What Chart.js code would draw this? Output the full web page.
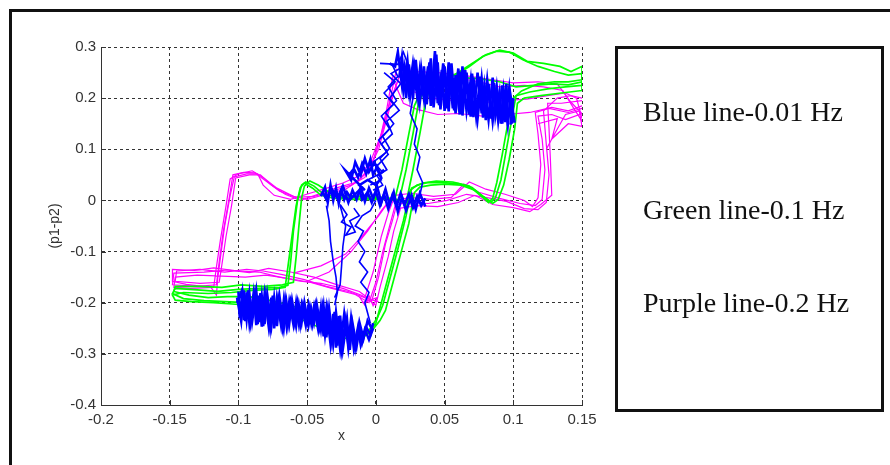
<!DOCTYPE html>
<html>
<head>
<meta charset="utf-8">
<script src="https://cdn.jsdelivr.net/npm/chart.js@4.4.0/dist/chart.umd.min.js"></script>
<style>
  html, body { margin: 0; padding: 0; background: #fff; }
  #wrap { position: relative; width: 890px; height: 465px; overflow: hidden; }
  #frame { position: absolute; left: 9px; top: 9px; width: 900px; height: 500px; border: 3px solid #111; }
  #plot { position: absolute; left: 0; top: 0; }
  #legendBox { position: absolute; left: 615px; top: 46px; width: 263px; height: 360px; border: 3px solid #111; }
  .leg { position: absolute; left: 643px; height: 32px; line-height: 32px; white-space: nowrap;
         font-family: "Liberation Serif", "Times New Roman", serif; font-size: 28px; color: #111; }
</style>
</head>
<body>
<div id="wrap">
  <div id="frame"></div>
  <canvas id="plot" width="890" height="465"></canvas>
  <div id="legendBox"></div>
  <div class="leg" style="top:96px">Blue line-0.01 Hz</div>
  <div class="leg" style="top:194px">Green line-0.1 Hz</div>
  <div class="leg" style="top:287px">Purple line-0.2 Hz</div>
</div>
<script>
/* axis ticks */
const xTicks = [-0.2, -0.15, -0.1, -0.05, 0, 0.05, 0.1, 0.15];
const xTickLabels = ['-0.2', '-0.15', '-0.1', '-0.05', '0', '0.05', '0.1', '0.15'];
const yTicks = [0.3, 0.2, 0.1, 0, -0.1, -0.2, -0.3, -0.4];
const yTickLabels = ['0.3', '0.2', '0.1', '0', '-0.1', '-0.2', '-0.3', '-0.4'];

/* ── Purple (0.2 Hz) cycles, [x, p1-p2] ── */
const purpleCycle1 = [
  [0.150, 0.170], [0.142, 0.192], [0.132, 0.228], [0.118, 0.232], [0.100, 0.230], [0.085, 0.236], [0.065, 0.244], [0.045, 0.250], [0.030, 0.252], [0.015, 0.256],
  [0.011, 0.205], [0.006, 0.145], [-0.001, 0.085], [-0.008, 0.045], [-0.018, 0.030],
  [-0.032, 0.018], [-0.045, 0.008], [-0.058, 0.006], [-0.070, 0.018], [-0.080, 0.038], [-0.088, 0.054], [-0.096, 0.055], [-0.104, 0.050],
  [-0.107, 0.000], [-0.111, -0.060], [-0.114, -0.120], [-0.116, -0.165],
  [-0.130, -0.168], [-0.148, -0.165], [-0.147, -0.142], [-0.125, -0.140], [-0.108, -0.136], [-0.092, -0.141], [-0.078, -0.133], [-0.062, -0.140], [-0.045, -0.150], [-0.028, -0.165], [-0.012, -0.178], [-0.003, -0.196],
  [0.002, -0.150], [0.007, -0.085], [0.012, -0.040], [0.016, 0.000], [0.024, 0.006],
  [0.040, 0.002], [0.055, 0.006], [0.064, 0.032], [0.075, 0.016], [0.090, 0.004], [0.105, -0.006], [0.116, -0.010], [0.121, 0.002],
  [0.123, 0.060], [0.121, 0.120], [0.118, 0.165], [0.128, 0.168], [0.138, 0.158], [0.150, 0.170]
];
const purpleCycle2 = [
  [0.150, 0.185], [0.140, 0.175], [0.128, 0.182], [0.112, 0.172], [0.095, 0.168], [0.078, 0.165], [0.060, 0.170], [0.045, 0.168], [0.030, 0.178], [0.020, 0.190], [0.012, 0.240],
  [0.008, 0.180], [0.003, 0.120], [-0.003, 0.070], [-0.012, 0.040], [-0.022, 0.022],
  [-0.036, 0.012], [-0.050, 0.002], [-0.060, 0.008], [-0.072, 0.024], [-0.082, 0.045], [-0.090, 0.058], [-0.100, 0.052], [-0.106, 0.042],
  [-0.109, -0.010], [-0.113, -0.075], [-0.116, -0.130], [-0.118, -0.170],
  [-0.135, -0.172], [-0.147, -0.170], [-0.146, -0.150], [-0.130, -0.146], [-0.112, -0.148], [-0.095, -0.150], [-0.080, -0.146], [-0.065, -0.152], [-0.048, -0.160], [-0.032, -0.172], [-0.015, -0.184], [-0.005, -0.200],
  [0.000, -0.160], [0.005, -0.100], [0.010, -0.050], [0.014, -0.010], [0.022, -0.004],
  [0.038, -0.006], [0.052, 0.000], [0.066, 0.012], [0.080, 0.006], [0.095, -0.002], [0.108, -0.016], [0.118, -0.018], [0.124, -0.004],
  [0.126, 0.050], [0.124, 0.110], [0.122, 0.175], [0.132, 0.200], [0.142, 0.205], [0.150, 0.200]
];
const purpleCycle3 = [
  [0.150, 0.155], [0.144, 0.180], [0.136, 0.215], [0.122, 0.222], [0.108, 0.225], [0.090, 0.222], [0.070, 0.235], [0.050, 0.240], [0.032, 0.245], [0.018, 0.250],
  [0.013, 0.210], [0.008, 0.160], [0.002, 0.100], [-0.006, 0.055], [-0.015, 0.035],
  [-0.028, 0.025], [-0.042, 0.012], [-0.055, 0.000], [-0.066, 0.012], [-0.076, 0.030], [-0.084, 0.050], [-0.092, 0.050], [-0.102, 0.044],
  [-0.105, -0.010], [-0.109, -0.070], [-0.112, -0.125], [-0.114, -0.160],
  [-0.128, -0.162], [-0.146, -0.158], [-0.145, -0.138], [-0.128, -0.135], [-0.110, -0.140], [-0.094, -0.135], [-0.082, -0.138], [-0.068, -0.145], [-0.052, -0.155], [-0.036, -0.168], [-0.020, -0.178], [-0.008, -0.190],
  [-0.002, -0.140], [0.004, -0.070], [0.009, -0.025], [0.014, 0.010], [0.026, 0.014],
  [0.042, 0.008], [0.058, 0.012], [0.068, 0.036], [0.080, 0.022], [0.094, 0.012], [0.108, 0.000], [0.114, -0.012], [0.118, 0.005],
  [0.120, 0.070], [0.118, 0.130], [0.116, 0.172], [0.126, 0.180], [0.140, 0.172], [0.150, 0.180]
];
const purpleCycle4 = [
  [0.150, 0.160], [0.146, 0.200], [0.138, 0.210], [0.125, 0.205], [0.110, 0.198], [0.092, 0.195], [0.075, 0.190], [0.058, 0.195], [0.040, 0.200], [0.025, 0.215], [0.016, 0.235],
  [0.010, 0.190], [0.004, 0.130], [-0.004, 0.075], [-0.012, 0.048], [-0.024, 0.034],
  [-0.038, 0.022], [-0.048, 0.014], [-0.062, 0.002], [-0.074, 0.010], [-0.082, 0.030], [-0.086, 0.052], [-0.094, 0.052], [-0.103, 0.046],
  [-0.106, 0.010], [-0.110, -0.050], [-0.113, -0.110], [-0.115, -0.150], [-0.116, -0.185],
  [-0.120, -0.170], [-0.138, -0.164], [-0.148, -0.158], [-0.148, -0.135], [-0.132, -0.137], [-0.118, -0.132], [-0.100, -0.138], [-0.085, -0.140], [-0.070, -0.150], [-0.055, -0.158], [-0.040, -0.162], [-0.024, -0.172], [-0.010, -0.186], [0.000, -0.205],
  [0.003, -0.170], [0.009, -0.110], [0.013, -0.060], [0.018, -0.015], [0.030, -0.010],
  [0.045, -0.012], [0.060, -0.004], [0.072, 0.010], [0.085, -0.008], [0.100, -0.014], [0.112, -0.022], [0.120, -0.008], [0.128, 0.010],
  [0.127, 0.080], [0.126, 0.140], [0.125, 0.190], [0.135, 0.190], [0.150, 0.195]
];
const purpleFan = [
  [-0.060, -0.142], [-0.040, -0.128], [-0.022, -0.105], [-0.010, -0.070], [0.002, -0.030], [0.010, 0.000],
  [0.004, -0.020], [-0.006, -0.060], [-0.018, -0.100], [-0.034, -0.140], [-0.050, -0.158]
];
const purpleKnot = [
  [-0.012, -0.188], [-0.008, -0.205], [-0.005, -0.186], [-0.002, -0.206], [0.001, -0.190], [-0.010, -0.200], [-0.004, -0.194], [0.002, -0.198]
];
const purpleRight = [
  [0.118, 0.150], [0.132, 0.160], [0.128, 0.120], [0.140, 0.150], [0.150, 0.145], [0.148, 0.175], [0.138, 0.168], [0.130, 0.130], [0.124, 0.100]
];

/* ── Green (0.1 Hz) cycles ── */
const greenCycle1 = [
  [0.017, 0.000], [0.022, 0.060], [0.027, 0.130], [0.031, 0.190], [0.036, 0.220],
  [0.045, 0.235], [0.058, 0.245], [0.068, 0.262], [0.078, 0.282], [0.088, 0.292], [0.097, 0.290], [0.107, 0.275], [0.118, 0.262], [0.130, 0.252], [0.140, 0.245], [0.150, 0.248],
  [0.150, 0.225], [0.138, 0.222], [0.125, 0.218], [0.112, 0.212], [0.102, 0.205],
  [0.099, 0.160], [0.095, 0.100], [0.091, 0.040], [0.087, 0.005], [0.084, -0.003],
  [0.078, 0.008], [0.070, 0.025], [0.060, 0.033], [0.048, 0.035], [0.038, 0.035], [0.030, 0.030], [0.025, 0.020],
  [0.020, -0.040], [0.014, -0.100], [0.008, -0.160], [0.003, -0.210], [0.000, -0.240],
  [-0.006, -0.262], [-0.014, -0.272], [-0.022, -0.262],
  [-0.035, -0.245], [-0.050, -0.225], [-0.065, -0.210], [-0.080, -0.202], [-0.095, -0.200], [-0.110, -0.198], [-0.125, -0.196], [-0.140, -0.192], [-0.148, -0.182], [-0.146, -0.172],
  [-0.130, -0.175], [-0.115, -0.178], [-0.100, -0.174], [-0.085, -0.172], [-0.070, -0.170], [-0.064, -0.166],
  [-0.062, -0.120], [-0.060, -0.060], [-0.057, 0.000], [-0.054, 0.030], [-0.051, 0.036],
  [-0.045, 0.028], [-0.038, 0.012], [-0.028, 0.007], [-0.015, 0.005], [0.000, 0.004], [0.010, 0.002], [0.017, 0.000]
];
const greenCycle2 = [
  [0.022, -0.005], [0.027, 0.060], [0.032, 0.130], [0.036, 0.190], [0.040, 0.222], [0.050, 0.232], [0.062, 0.240], [0.075, 0.238], [0.090, 0.232], [0.102, 0.222],
  [0.115, 0.225], [0.128, 0.228], [0.140, 0.226], [0.150, 0.232], [0.150, 0.215], [0.135, 0.210], [0.120, 0.205], [0.108, 0.200], [0.103, 0.190],
  [0.101, 0.140], [0.097, 0.080], [0.093, 0.030], [0.089, 0.002], [0.085, -0.006], [0.080, 0.004], [0.072, 0.020], [0.062, 0.030], [0.050, 0.032], [0.040, 0.030],
  [0.032, 0.026], [0.028, 0.015], [0.024, -0.045], [0.018, -0.105], [0.012, -0.165], [0.007, -0.215], [0.003, -0.235], [-0.003, -0.255], [-0.010, -0.268],
  [-0.020, -0.260], [-0.032, -0.240], [-0.045, -0.222], [-0.062, -0.205], [-0.078, -0.195], [-0.092, -0.188], [-0.108, -0.188], [-0.122, -0.190], [-0.136, -0.185],
  [-0.147, -0.178], [-0.146, -0.168], [-0.128, -0.168], [-0.112, -0.170], [-0.098, -0.165], [-0.082, -0.168], [-0.068, -0.165], [-0.060, -0.160],
  [-0.058, -0.110], [-0.056, -0.050], [-0.054, 0.005], [-0.052, 0.028], [-0.048, 0.038], [-0.042, 0.030], [-0.034, 0.016], [-0.024, 0.010], [-0.010, 0.008],
  [0.005, 0.006], [0.015, 0.002], [0.022, -0.005]
];
const greenCycle3 = [
  [0.014, 0.004], [0.019, 0.060], [0.024, 0.130], [0.028, 0.185], [0.033, 0.215], [0.045, 0.228], [0.060, 0.250], [0.070, 0.268], [0.080, 0.285], [0.090, 0.294],
  [0.100, 0.288], [0.110, 0.272], [0.122, 0.268], [0.134, 0.262], [0.142, 0.252], [0.150, 0.262], [0.150, 0.236], [0.140, 0.232], [0.130, 0.232], [0.118, 0.228],
  [0.106, 0.214], [0.098, 0.195], [0.096, 0.150], [0.092, 0.090], [0.088, 0.035], [0.085, 0.004], [0.082, -0.004], [0.076, 0.010], [0.068, 0.028], [0.056, 0.036],
  [0.044, 0.038], [0.034, 0.034], [0.026, 0.024], [0.022, -0.030], [0.016, -0.095], [0.010, -0.155], [0.005, -0.205], [0.001, -0.230], [-0.006, -0.258],
  [-0.015, -0.275], [-0.024, -0.268], [-0.038, -0.252], [-0.055, -0.232], [-0.070, -0.216], [-0.085, -0.206], [-0.102, -0.203], [-0.118, -0.200], [-0.134, -0.198],
  [-0.146, -0.195], [-0.148, -0.185], [-0.140, -0.180], [-0.122, -0.182], [-0.105, -0.180], [-0.090, -0.176], [-0.075, -0.174], [-0.066, -0.170],
  [-0.064, -0.130], [-0.061, -0.070], [-0.058, -0.010], [-0.055, 0.025], [-0.052, 0.034], [-0.046, 0.024], [-0.040, 0.010], [-0.030, 0.004], [-0.016, 0.002],
  [-0.002, 0.002], [0.008, 0.003], [0.014, 0.004]
];

/* ── Blue (0.01 Hz) traces ── */
const blueUpperA = [
  [0.018, 0.265], [0.020, 0.215], [0.023, 0.272], [0.025, 0.205], [0.028, 0.262], [0.031, 0.200], [0.033, 0.258], [0.036, 0.195], [0.039, 0.270], [0.041, 0.190],
  [0.044, 0.285], [0.046, 0.186], [0.049, 0.268], [0.052, 0.180], [0.054, 0.262], [0.057, 0.176], [0.060, 0.258], [0.062, 0.172], [0.065, 0.255], [0.068, 0.168],
  [0.070, 0.248], [0.073, 0.165], [0.076, 0.242], [0.078, 0.162], [0.081, 0.236], [0.084, 0.160], [0.086, 0.230], [0.089, 0.156], [0.092, 0.225], [0.094, 0.153],
  [0.097, 0.218], [0.099, 0.150], [0.100, 0.200], [0.098, 0.148]
];
const blueUpperB = [
  [0.099, 0.185], [0.096, 0.160], [0.095, 0.228], [0.092, 0.150], [0.090, 0.212], [0.087, 0.165], [0.085, 0.240], [0.082, 0.158], [0.079, 0.225], [0.077, 0.170],
  [0.074, 0.250], [0.071, 0.163], [0.069, 0.235], [0.066, 0.175], [0.063, 0.262], [0.061, 0.168], [0.058, 0.245], [0.056, 0.180], [0.053, 0.270], [0.050, 0.175],
  [0.048, 0.255], [0.045, 0.190], [0.043, 0.292], [0.040, 0.185], [0.038, 0.262], [0.035, 0.198], [0.032, 0.255], [0.030, 0.205], [0.027, 0.268], [0.024, 0.210],
  [0.021, 0.262], [0.019, 0.225], [0.016, 0.290], [0.014, 0.262], [0.010, 0.268]
];
const blueUpperC = [
  [0.017, 0.240], [0.019, 0.280], [0.022, 0.200], [0.024, 0.266], [0.027, 0.198], [0.029, 0.275], [0.032, 0.192], [0.035, 0.262], [0.037, 0.188], [0.040, 0.278],
  [0.042, 0.182], [0.045, 0.270], [0.047, 0.178], [0.050, 0.262], [0.053, 0.174], [0.055, 0.268], [0.058, 0.170], [0.061, 0.252], [0.063, 0.166], [0.066, 0.250],
  [0.069, 0.164], [0.071, 0.240], [0.074, 0.160], [0.077, 0.238], [0.080, 0.157], [0.082, 0.228], [0.085, 0.155], [0.088, 0.222], [0.091, 0.150], [0.093, 0.215],
  [0.096, 0.148], [0.098, 0.205], [0.101, 0.152]
];
const blueLeftA = [
  [0.012, 0.265], [0.016, 0.242], [0.009, 0.222], [0.015, 0.195], [0.007, 0.172], [0.013, 0.150], [0.005, 0.125], [0.010, 0.102], [0.003, 0.082], [0.008, 0.060],
  [0.001, 0.048], [0.005, 0.030], [-0.002, 0.020]
];
const blueLeftB = [
  [0.020, 0.262], [0.011, 0.248], [0.018, 0.228], [0.010, 0.200], [0.017, 0.176], [0.008, 0.155], [0.012, 0.130], [0.004, 0.110], [0.009, 0.090], [0.000, 0.065],
  [0.004, 0.040], [-0.004, 0.030]
];
const blueLeftC = [
  [0.006, 0.250], [0.014, 0.232], [0.006, 0.210], [0.013, 0.188], [0.004, 0.165], [0.010, 0.140], [0.002, 0.118], [0.008, 0.095], [-0.002, 0.075], [0.005, 0.055],
  [-0.006, 0.040]
];
const blueSpike = [[0.003, 0.268], [0.016, 0.266], [0.020, 0.290], [0.024, 0.262]];
const blueRightLine = [
  [0.027, 0.200], [0.025, 0.170], [0.030, 0.140], [0.028, 0.110], [0.032, 0.085], [0.030, 0.060], [0.034, 0.035], [0.032, 0.010], [0.035, -0.005], [0.028, 0.000]
];
const blueMiddleA = [
  [-0.040, 0.008], [-0.037, 0.026], [-0.035, -0.004], [-0.033, 0.030], [-0.031, 0.000], [-0.029, 0.024], [-0.027, -0.006], [-0.025, 0.020], [-0.023, 0.002], [-0.021, 0.016],
  [-0.018, 0.004], [-0.015, 0.012], [-0.012, 0.020], [-0.010, 0.002], [-0.006, 0.016], [-0.003, -0.004], [0.000, 0.018], [0.003, -0.010], [0.006, 0.012], [0.009, -0.016],
  [0.012, 0.010], [0.015, -0.012], [0.018, 0.014], [0.021, -0.008], [0.024, 0.012], [0.027, -0.014], [0.030, 0.008], [0.033, -0.010], [0.036, 0.004]
];
const blueMiddleB = [
  [0.036, -0.012], [0.032, 0.014], [0.029, -0.018], [0.026, 0.010], [0.022, -0.020], [0.019, 0.006], [0.016, -0.022], [0.013, 0.016], [0.010, -0.008], [0.007, 0.022],
  [0.004, -0.004], [0.001, 0.026], [-0.002, 0.004], [-0.005, 0.024], [-0.008, -0.002], [-0.011, 0.026], [-0.014, 0.002], [-0.017, 0.020], [-0.020, -0.004],
  [-0.024, 0.028], [-0.028, 0.004], [-0.032, 0.022], [-0.036, 0.002], [-0.039, 0.018]
];
const blueTree = [
  [-0.020, 0.048], [-0.016, 0.062], [-0.013, 0.045], [-0.010, 0.072], [-0.007, 0.052], [-0.004, 0.080], [-0.002, 0.050], [0.001, 0.066], [0.004, 0.044], [0.000, 0.030],
  [-0.006, 0.040], [-0.012, 0.030], [-0.008, 0.020], [-0.022, 0.058], [-0.018, 0.040], [-0.015, 0.075], [-0.011, 0.050], [-0.008, 0.082], [-0.005, 0.056],
  [-0.001, 0.074], [0.003, 0.052], [0.006, 0.060]
];
const blueBranch = [
  [-0.026, -0.008], [-0.021, -0.028], [-0.025, -0.042], [-0.018, -0.052], [-0.022, -0.068], [-0.015, -0.062], [-0.019, -0.040], [-0.012, -0.030], [-0.016, -0.015]
];
const blueDropA = [[-0.036, -0.010], [-0.034, -0.040], [-0.033, -0.080], [-0.031, -0.120], [-0.029, -0.150], [-0.028, -0.180], [-0.030, -0.205]];
const blueDropB = [[-0.026, -0.010], [-0.022, -0.050], [-0.024, -0.090], [-0.025, -0.130], [-0.026, -0.165], [-0.030, -0.190]];
const blueRise = [
  [-0.004, -0.240], [-0.008, -0.200], [-0.005, -0.180], [-0.011, -0.160], [-0.006, -0.140], [-0.012, -0.120], [-0.008, -0.100], [-0.013, -0.080], [-0.009, -0.060],
  [-0.015, -0.050], [-0.010, -0.030], [-0.004, -0.020], [0.000, 0.000]
];
const blueLowerA = [
  [-0.100, -0.178], [-0.099, -0.230], [-0.097, -0.182], [-0.095, -0.236], [-0.093, -0.176], [-0.091, -0.238], [-0.088, -0.184], [-0.086, -0.242], [-0.084, -0.181],
  [-0.082, -0.246], [-0.080, -0.188], [-0.077, -0.249], [-0.075, -0.186], [-0.073, -0.244], [-0.071, -0.193], [-0.068, -0.247], [-0.066, -0.195], [-0.064, -0.242],
  [-0.062, -0.199], [-0.059, -0.240], [-0.057, -0.202], [-0.055, -0.243], [-0.053, -0.205], [-0.050, -0.238], [-0.048, -0.209], [-0.046, -0.241], [-0.044, -0.205],
  [-0.041, -0.248], [-0.039, -0.210], [-0.037, -0.262], [-0.035, -0.214], [-0.032, -0.275], [-0.030, -0.218], [-0.028, -0.284], [-0.026, -0.225], [-0.024, -0.290],
  [-0.021, -0.232], [-0.019, -0.292], [-0.017, -0.240], [-0.014, -0.285], [-0.012, -0.250], [-0.010, -0.278], [-0.007, -0.248], [-0.004, -0.262], [-0.002, -0.240]
];
const blueLowerB = [
  [-0.003, -0.250], [-0.006, -0.235], [-0.009, -0.270], [-0.012, -0.238], [-0.015, -0.288], [-0.018, -0.230], [-0.020, -0.282], [-0.023, -0.222], [-0.026, -0.290],
  [-0.029, -0.220], [-0.031, -0.278], [-0.034, -0.212], [-0.036, -0.268], [-0.038, -0.208], [-0.040, -0.252], [-0.043, -0.203], [-0.045, -0.238], [-0.047, -0.212],
  [-0.049, -0.244], [-0.052, -0.200], [-0.054, -0.238], [-0.056, -0.205], [-0.058, -0.245], [-0.061, -0.196], [-0.063, -0.240], [-0.065, -0.200], [-0.067, -0.250],
  [-0.070, -0.190], [-0.072, -0.246], [-0.074, -0.192], [-0.076, -0.244], [-0.079, -0.185], [-0.081, -0.242], [-0.083, -0.188], [-0.085, -0.238], [-0.087, -0.178],
  [-0.090, -0.236], [-0.092, -0.183], [-0.094, -0.232], [-0.096, -0.176], [-0.098, -0.236], [-0.101, -0.190]
];
const blueLowerC = [
  [-0.101, -0.200], [-0.098, -0.180], [-0.096, -0.234], [-0.094, -0.180], [-0.092, -0.240], [-0.089, -0.182], [-0.087, -0.244], [-0.085, -0.186], [-0.083, -0.247],
  [-0.081, -0.184], [-0.078, -0.246], [-0.076, -0.190], [-0.074, -0.250], [-0.072, -0.192], [-0.069, -0.244], [-0.067, -0.196], [-0.065, -0.244], [-0.063, -0.198],
  [-0.060, -0.242], [-0.058, -0.200], [-0.056, -0.240], [-0.054, -0.204], [-0.051, -0.244], [-0.049, -0.206], [-0.047, -0.240], [-0.045, -0.208], [-0.042, -0.252],
  [-0.040, -0.210], [-0.038, -0.266], [-0.036, -0.212], [-0.033, -0.280], [-0.031, -0.222], [-0.029, -0.288], [-0.027, -0.226], [-0.025, -0.292], [-0.022, -0.236],
  [-0.020, -0.288], [-0.018, -0.244], [-0.016, -0.290], [-0.013, -0.248], [-0.011, -0.282], [-0.008, -0.252], [-0.005, -0.272], [-0.002, -0.250]
];

const blueMasses = [blueUpperA, blueUpperB, blueUpperC, blueLowerA, blueLowerB, blueLowerC, blueMiddleA, blueMiddleB, blueTree];
const blueStrands = [blueLeftA, blueLeftB, blueLeftC, blueSpike, blueRightLine, blueBranch, blueDropA, blueDropB, blueRise];
const greenTraces = [greenCycle1, greenCycle2, greenCycle3];
const purpleTraces = [purpleCycle1, purpleCycle2, purpleCycle3, purpleCycle4, purpleFan, purpleKnot, purpleRight];

const FONT = '"Liberation Sans", Arial, sans-serif';
const INK = '#333';

function toDatasets(traces, color, width, order) {
    return traces.map(function (t) {
        return {
            data: t.map(function (p) { return { x: p[0], y: p[1] }; }),
            showLine: true,
            borderColor: color,
            backgroundColor: color,
            borderWidth: width,
            pointRadius: 0,
            tension: 0,
            order: order,
        };
    });
}

/* small inward tick marks on the two solid axes */
const inwardTicks = {
    id: 'inwardTicks',
    beforeDatasetsDraw(chart) {
        const { ctx, chartArea: a, scales: { x, y } } = chart;
        ctx.save();
        ctx.strokeStyle = INK;
        ctx.lineWidth = 1;
        ctx.beginPath();
        x.ticks.forEach(function (t) {
            const px = Math.round(x.getPixelForValue(t.value)) + 0.5;
            ctx.moveTo(px, a.bottom);
            ctx.lineTo(px, a.bottom - 5);
        });
        y.ticks.forEach(function (t) {
            const py = Math.round(y.getPixelForValue(t.value)) + 0.5;
            ctx.moveTo(a.left, py);
            ctx.lineTo(a.left + 5, py);
        });
        ctx.stroke();
        ctx.restore();
    }
};

new Chart(document.getElementById('plot'), {
    type: 'scatter',
    data: {
        datasets: [].concat(
            toDatasets(blueMasses, '#0000ff', 2.6, 1),
            toDatasets(blueStrands, '#0000ff', 1.6, 1),
            toDatasets(greenTraces, '#00ff00', 1.7, 2),
            toDatasets(purpleTraces, '#ff00ff', 1.2, 3)
        ),
    },
    options: {
        responsive: false,
        animation: false,
        layout: { padding: { top: 47, right: 308, left: 0, bottom: 0 } },
        plugins: { legend: { display: false }, tooltip: { enabled: false } },
        scales: {
            x: {
                type: 'linear', min: -0.2, max: 0.15,
                afterBuildTicks: function (s) { s.ticks = xTicks.map(function (v) { return { value: v }; }); },
                afterFit: function (s) { s.height = 60; },
                ticks: {
                    autoSkip: false, maxRotation: 0, padding: 6, color: INK,
                    font: { family: FONT, size: 15 },
                    callback: function (v, i) { return xTickLabels[i]; },
                },
                grid: { color: INK, lineWidth: 1, drawTicks: false },
                border: { display: true, color: INK, width: 1, dash: [3, 3] },
                title: { display: true, text: 'x', color: INK, font: { family: FONT, size: 14 }, padding: { top: 0, bottom: 20 } },
            },
            y: {
                type: 'linear', min: -0.4, max: 0.3,
                afterBuildTicks: function (s) { s.ticks = yTicks.map(function (v) { return { value: v }; }); },
                afterFit: function (s) { s.width = 101; },
                ticks: {
                    autoSkip: false, padding: 5, color: INK,
                    font: { family: FONT, size: 15 },
                    callback: function (v, i) { return yTickLabels[i]; },
                },
                grid: { color: INK, lineWidth: 1, drawTicks: false },
                border: { display: true, color: INK, width: 1, dash: [3, 3] },
                title: { display: true, text: '(p1-p2)', color: INK, font: { family: FONT, size: 14 }, padding: { top: 47, bottom: 0 } },
            },
        },
    },
    plugins: [inwardTicks],
});
</script>
</body>
</html>
